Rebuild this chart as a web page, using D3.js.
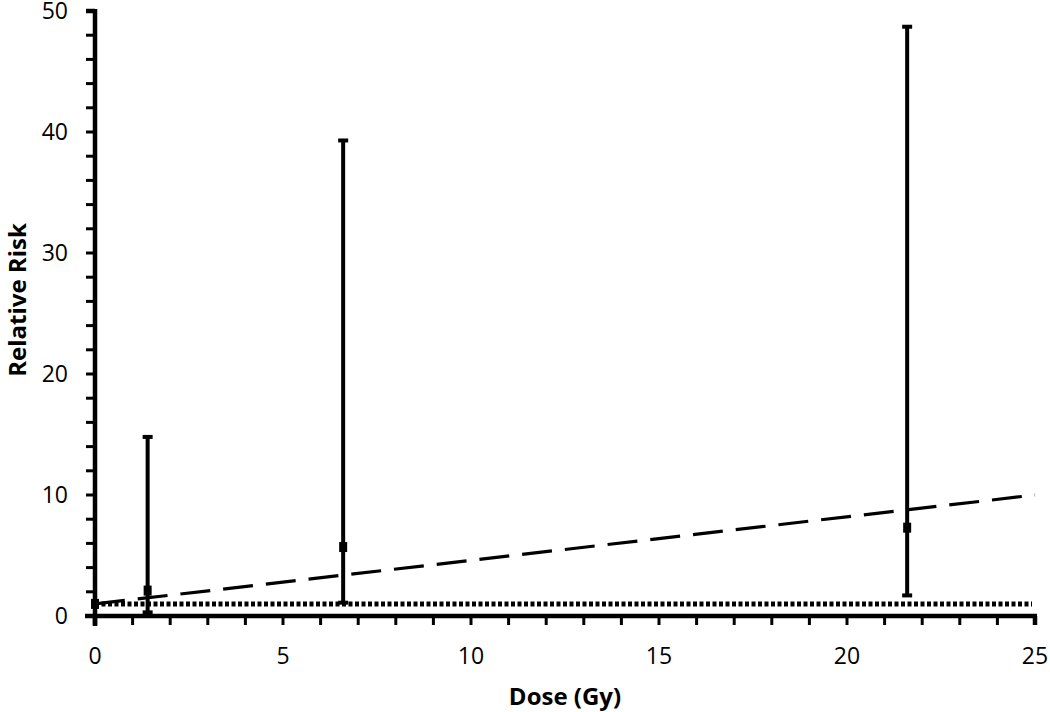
<!DOCTYPE html>
<html><head><meta charset="utf-8">
<script src="https://cdn.jsdelivr.net/npm/d3@7"></script>
<style>body{margin:0;background:#fff}svg{display:block}</style>
</head><body>
<svg id="c" width="1050" height="712"></svg>
<script>
const doses = [0, 1.4, 6.6, 21.6];
const rr = [1.0, 2.1, 5.7, 7.3];
const lower = [1.0, 0.3, 1.1, 1.7];
const upper = [1.0, 14.8, 39.3, 48.7];
const xTicks = [0, 5, 10, 15, 20, 25];
const yTicks = [0, 10, 20, 30, 40, 50];
const errSlope = 0.36; // fitted excess relative risk per Gy
const baselineRR = 1;

const svg = d3.select("#c");
const x = d3.scaleLinear().domain([0, 25]).range([95, 1035]);
const y = d3.scaleLinear().domain([0, 50]).range([616, 11]);
const font = "'Open Sans', 'Liberation Sans', sans-serif";

// baseline dotted line
svg.append("line").attr("x1", x(0)).attr("x2", x(25) - 3)
  .attr("y1", y(baselineRR)).attr("y2", y(baselineRR))
  .attr("stroke", "#000").attr("stroke-width", 5).attr("stroke-dasharray", "4,2.5");

// dashed fitted line
const lineData = [0, 25].map(d => [d, baselineRR + errSlope * d]);
svg.append("path").attr("d", d3.line().x(d => x(d[0])).y(d => y(d[1]))(lineData))
  .attr("fill", "none").attr("stroke", "#000").attr("stroke-width", 3.2)
  .attr("stroke-dasharray", "30,13");

// error bars
const g = svg.append("g");
doses.forEach((d, i) => {
  if (upper[i] > lower[i]) {
    g.append("line").attr("x1", x(d)).attr("x2", x(d)).attr("y1", y(upper[i])).attr("y2", y(lower[i]))
      .attr("stroke", "#000").attr("stroke-width", 4);
    [upper[i], lower[i]].forEach(v => {
      g.append("line").attr("x1", x(d) - 5).attr("x2", x(d) + 5).attr("y1", y(v)).attr("y2", y(v))
        .attr("stroke", "#000").attr("stroke-width", 4);
    });
  }
  g.append("rect").attr("x", x(d) - 4).attr("y", y(rr[i]) - 5).attr("width", 8).attr("height", 10).attr("fill", "#000");
});

// axes
const xAxis = svg.append("g");
xAxis.append("line").attr("x1", x(0) - 10).attr("x2", x(25) + 2).attr("y1", y(0)).attr("y2", y(0))
  .attr("stroke", "#000").attr("stroke-width", 4.5);
d3.range(0, 26, 1).forEach(v => {
  xAxis.append("line").attr("x1", x(v)).attr("x2", x(v)).attr("y1", y(0)).attr("y2", y(0) + 9)
    .attr("stroke", "#000").attr("stroke-width", v === 0 || v === 25 ? 4.5 : 3);
});
xAxis.selectAll("text.xt").data(xTicks).enter().append("text")
  .attr("x", d => x(d)).attr("y", 664).attr("text-anchor", "middle")
  .attr("font-family", font).attr("font-size", 23).text(d => d);

const yAxis = svg.append("g");
yAxis.append("line").attr("x1", x(0)).attr("x2", x(0)).attr("y1", y(50) - 2).attr("y2", y(0) + 10)
  .attr("stroke", "#000").attr("stroke-width", 4.5);
d3.range(0, 51, 2).forEach(v => {
  yAxis.append("line").attr("x1", x(0) - 9).attr("x2", x(0)).attr("y1", y(v)).attr("y2", y(v))
    .attr("stroke", "#000").attr("stroke-width", v === 50 ? 4.5 : 3);
});
yAxis.selectAll("text.yt").data(yTicks).enter().append("text")
  .attr("x", 68).attr("y", d => y(d) + 8).attr("text-anchor", "end")
  .attr("font-family", font).attr("font-size", 23).text(d => d);

svg.append("text").attr("x", x(12.5)).attr("y", 705).attr("text-anchor", "middle")
  .attr("font-family", font).attr("font-weight", "bold").attr("font-size", 24).text("Dose (Gy)");
svg.append("text").attr("transform", "translate(26,300) rotate(-90)").attr("text-anchor", "middle")
  .attr("font-family", font).attr("font-weight", "bold").attr("font-size", 24).text("Relative Risk");
</script>
</body></html>
